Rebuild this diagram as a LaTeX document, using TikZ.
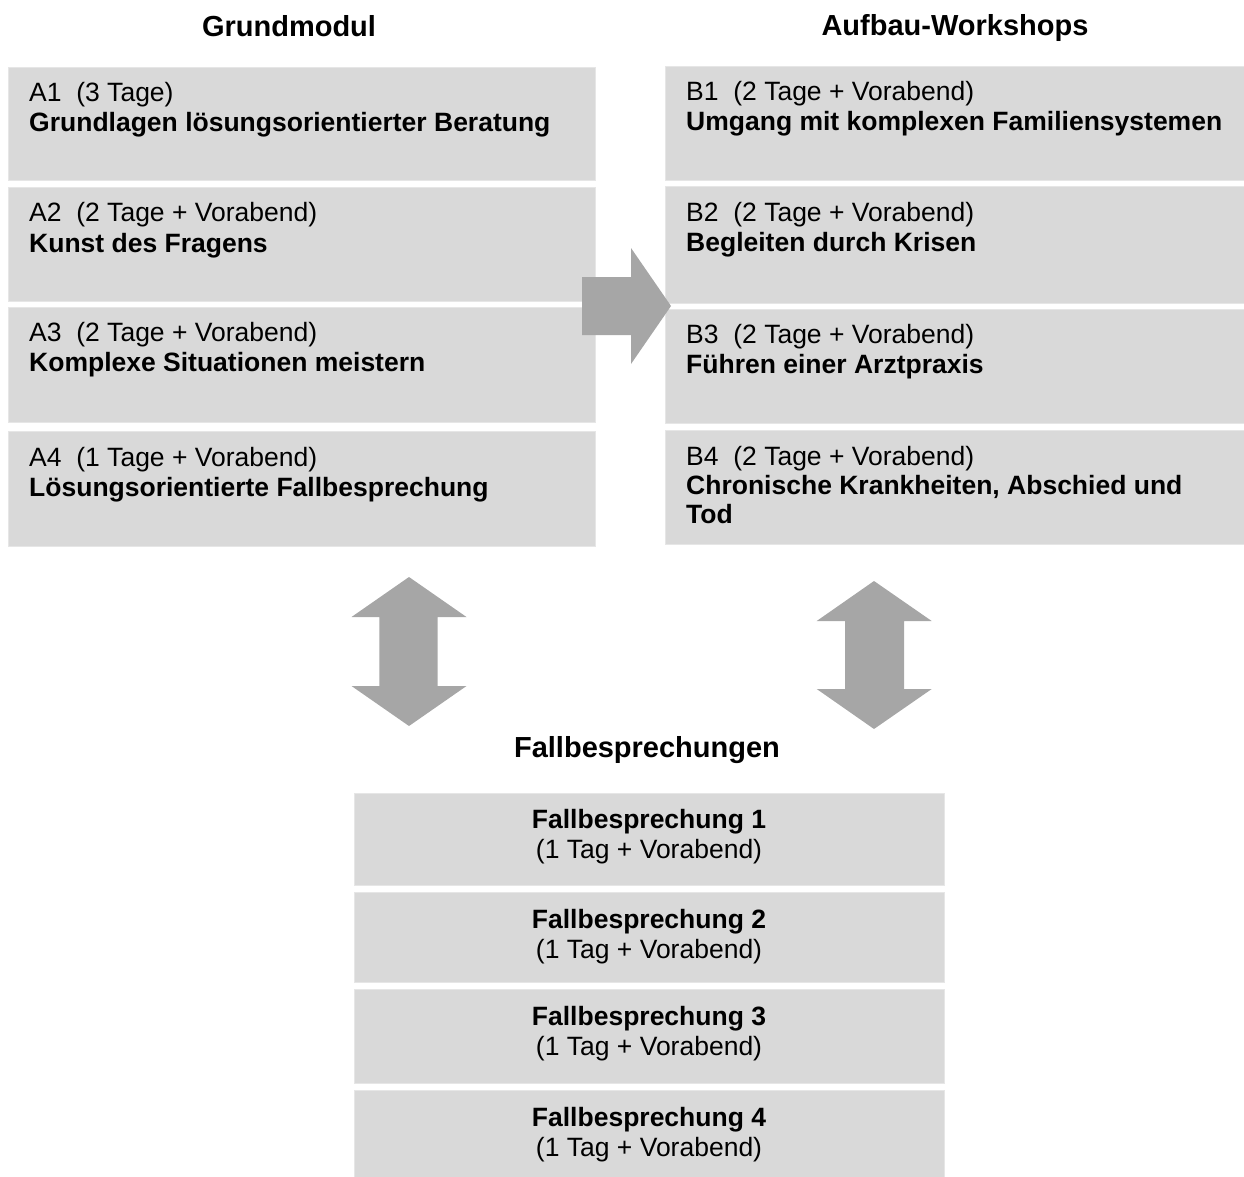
\documentclass[tikz,border=0pt]{standalone}
\usepackage{fontspec}
\setmainfont{Liberation Sans}
\usetikzlibrary{calc}
\definecolor{boxfill}{HTML}{D9D9D9}
\definecolor{boxedge}{HTML}{E6E6E6}
\definecolor{arrowgray}{HTML}{A6A6A6}
\tikzset{
  box/.style={fill=boxfill, draw=boxedge, line width=1pt, anchor=north west, inner sep=0pt, outer sep=0pt},
  bodytxt/.style={font=\fontsize{26.5}{30}\selectfont, inner sep=0pt, anchor=base west},
  boldtxt/.style={font=\fontsize{26.5}{30}\selectfont\bfseries, inner sep=0pt, anchor=base west},
  headtxt/.style={font=\fontsize{29}{33}\selectfont\bfseries, inner sep=0pt, anchor=base},
  ctrbold/.style={font=\fontsize{26.5}{30}\selectfont\bfseries, inner sep=0pt, anchor=base},
  ctrtxt/.style={font=\fontsize{26.5}{30}\selectfont, inner sep=0pt, anchor=base},
  blockarrow/.style={fill=arrowgray, draw=none}
}
\begin{document}
\begin{tikzpicture}[x=1pt,y=-1pt]
\useasboundingbox (0,0) rectangle (1244,1177);

% headings
\node[headtxt] (hA) at (289,37) {Grundmodul};
\node[headtxt] (hB) at (955,36) {Aufbau-Workshops};
\node[headtxt] (hF) at (647,757) {Fallbesprechungen};

% left column
\node[box, minimum width=587, minimum height=113] (A1) at (8,68) {};
\node[box, minimum width=587, minimum height=113] (A2) at (8,188) {};
\node[box, minimum width=587, minimum height=115] (A3) at (8,307) {};
\node[box, minimum width=587, minimum height=115] (A4) at (8,431) {};

% right column
\node[box, minimum width=579, minimum height=114] (B1) at (665,67) {};
\node[box, minimum width=579, minimum height=116] (B2) at (665,187) {};
\node[box, minimum width=579, minimum height=114] (B3) at (665,309) {};
\node[box, minimum width=579, minimum height=114] (B4) at (665,430) {};

% bottom column
\node[box, minimum width=590, minimum height=92] (F1) at (354,793) {};
\node[box, minimum width=590, minimum height=90] (F2) at (354,892) {};
\node[box, minimum width=590, minimum height=94] (F3) at (354,989) {};
\node[box, minimum width=590, minimum height=87] (F4) at (354,1090) {};

% texts left
\node[bodytxt] (A1a) at ($(A1.north west)+(21,34)$) {A1~ (3 Tage)};
\node[boldtxt] (A1b) at ($(A1a.base west)+(0,30)$) {Grundlagen lösungsorientierter Beratung};
\node[bodytxt] (A2a) at ($(A2.north west)+(21,34)$) {A2~ (2 Tage + Vorabend)};
\node[boldtxt] (A2b) at ($(A2a.base west)+(0,30)$) {Kunst des Fragens};
\node[bodytxt] (A3a) at ($(A3.north west)+(21,34)$) {A3~ (2 Tage + Vorabend)};
\node[boldtxt] (A3b) at ($(A3a.base west)+(0,30)$) {Komplexe Situationen meistern};
\node[bodytxt] (A4a) at ($(A4.north west)+(21,35)$) {A4~ (1 Tage + Vorabend)};
\node[boldtxt] (A4b) at ($(A4a.base west)+(0,30)$) {Lösungsorientierte Fallbesprechung};

% texts right
\node[bodytxt] (B1a) at ($(B1.north west)+(21,34)$) {B1~ (2 Tage + Vorabend)};
\node[boldtxt] (B1b) at ($(B1a.base west)+(0,30)$) {Umgang mit komplexen Familiensystemen};
\node[bodytxt] (B2a) at ($(B2.north west)+(21,34)$) {B2~ (2 Tage + Vorabend)};
\node[boldtxt] (B2b) at ($(B2a.base west)+(0,30)$) {Begleiten durch Krisen};
\node[bodytxt] (B3a) at ($(B3.north west)+(21,34)$) {B3~ (2 Tage + Vorabend)};
\node[boldtxt] (B3b) at ($(B3a.base west)+(0,30)$) {Führen einer Arztpraxis};
\node[bodytxt] (B4a) at ($(B4.north west)+(21,35)$) {B4~ (2 Tage + Vorabend)};
\node[boldtxt] (B4b) at ($(B4a.base west)+(0,29)$) {Chronische Krankheiten, Abschied und};
\node[boldtxt] (B4c) at ($(B4b.base west)+(0,29)$) {Tod};

% texts bottom
\node[ctrbold] (F1a) at ($(F1.north)+(0,35.5)$) {Fallbesprechung 1};
\node[ctrtxt] (F1b) at ($(F1a.base)+(0,30)$) {(1 Tag + Vorabend)};
\node[ctrbold] (F2a) at ($(F2.north)+(0,36)$) {Fallbesprechung 2};
\node[ctrtxt] (F2b) at ($(F2a.base)+(0,30)$) {(1 Tag + Vorabend)};
\node[ctrbold] (F3a) at ($(F3.north)+(0,36.5)$) {Fallbesprechung 3};
\node[ctrtxt] (F3b) at ($(F3a.base)+(0,30)$) {(1 Tag + Vorabend)};
\node[ctrbold] (F4a) at ($(F4.north)+(0,36)$) {Fallbesprechung 4};
\node[ctrtxt] (F4b) at ($(F4a.base)+(0,30)$) {(1 Tag + Vorabend)};

% right block arrow
\fill[blockarrow] (582,277) -- (631,277) -- (631,248) -- (671,306) -- (631,364) -- (631,335) -- (582,335) -- cycle;

% left double arrow
\fill[blockarrow] (409,577) -- (466.5,617) -- (437.7,617) -- (437.7,686) -- (466.5,686) -- (409,726)
  -- (351.5,686) -- (379.3,686) -- (379.3,617) -- (351.5,617) -- cycle;

% right double arrow
\fill[blockarrow] (874,581) -- (931.7,621) -- (904,621) -- (904,689) -- (931.7,689) -- (874,729)
  -- (816.7,689) -- (845,689) -- (845,621) -- (816.7,621) -- cycle;
\end{tikzpicture}
\end{document}
